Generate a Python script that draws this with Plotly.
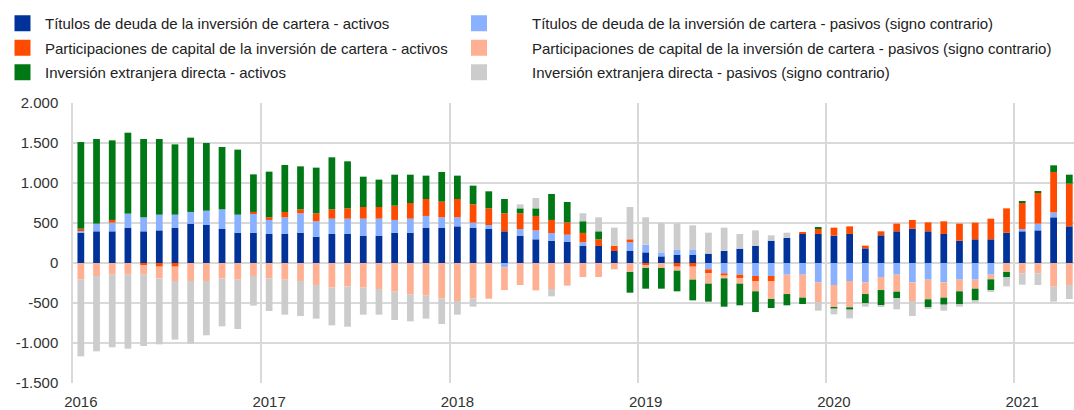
import plotly.graph_objects as go

years = ["2016", "2017", "2018", "2019", "2020", "2021"]
y_tick_vals = [-1500, -1000, -500, 0, 500, 1000, 1500, 2000]
y_tick_text = ["-1.500", "-1.000", "-500", "0", "500", "1.000", "1.500", "2.000"]

names = [
    "Títulos de deuda de la inversión de cartera - activos",
    "Títulos de deuda de la inversión de cartera - pasivos (signo contrario)",
    "Participaciones de capital de la inversión de cartera - activos",
    "Participaciones de capital de la inversión de cartera - pasivos (signo contrario)",
    "Inversión extranjera directa - activos",
    "Inversión extranjera directa - pasivos (signo contrario)",
]

# monthly values, Jan 2016 - Apr 2021
debt_assets = [379, 396, 396, 442, 396, 408, 442, 492, 475, 425, 379, 379,
               363, 363, 379, 329, 363, 363, 342, 342, 379, 379, 442, 442,
               458, 442, 425, 396, 342, 296, 279, 263, 213, 213, 150, 150,
               133, 83, 100, 100, 117, 150, 179, 213, 279, 313, 363, 363,
               342, 363, 183, 346, 396, 429, 396, 363, 279, 296, 296, 379,
               396, 408, 571, 458]
debt_liab = [29, 96, 108, 175, 175, 196, 162, 146, 179, 246, 225, 242,
             175, 208, 242, 192, 191, 191, 212, 212, 159, 175, 146, 129,
             113, 62, 50, -54, 83, 112, 96, 91, 46, 0, 0, 108,
             96, 50, 63, 63, -79, -129, -146, -162, -162, -146, -146, -242,
             -275, -225, -242, -175, -146, -242, -208, -242, -208, -208, -146, 0,
             29, 84, 62, 0]
equity_assets = [21, 0, 34, 0, -25, -46, -46, 0, 0, 0, 0, 17,
                 33, 67, 50, 100, 117, 129, 146, 146, 179, 196, 212, 196,
                 229, 229, 208, 225, 196, 180, 163, 154, 117, 83, 63, 38,
                 -29, 0, -46, -46, -50, -29, -46, -63, -63, 0, 16, 62,
                 100, 95, 34, 50, 96, 109, 112, 158, 213, 208, 258, 304,
                 325, 383, 505, 534]
equity_liab = [-208, -162, -146, -146, -121, -146, -179, -225, -225, -192, -208, -162,
               -192, -208, -225, -275, -308, -292, -308, -325, -358, -392, -408, -442,
               -475, -442, -446, -284, -275, -342, -325, -283, -175, -175, -79, -112,
               -33, -62, -50, -162, -129, -34, -66, -129, -225, -242, -287, -246,
               -275, -329, -146, -163, -212, -233, -246, -191, -146, -113, -58, -112,
               -129, -129, -296, -275]
fdi_assets = [1083, 1058, 995, 1012, 979, 946, 879, 929, 846, 779, 813, 470,
              571, 587, 537, 571, 650, 588, 379, 342, 387, 354, 292, 371,
              292, 234, 213, 179, 62, 95, 325, 255, 146, 100, 0, -259,
              -259, -259, -258, -259, -225, -354, -271, -259, -113, -141, -80, 17,
              -17, -29, -116, -187, -80, 0, -96, -88, -163, -146, -134, -63,
              17, 21, 83, 112]
fdi_liab = [-959, -942, -908, -925, -892, -825, -733, -783, -679, -600, -617, -371,
            -408, -438, -438, -421, -471, -504, -338, -321, -355, -337, -288, -321,
            -171, -104, 0, 0, 50, 130, -92, 0, 100, 175, 229, 404,
            342, 367, 333, 308, 262, 292, 183, 195, 67, 66, 0, -108,
            -75, -109, -42, -21, -141, -188, -21, -75, -29, -33, -25, -117,
            -142, -146, -187, -175]

series = [debt_assets, debt_liab, equity_assets, equity_liab, fdi_assets, fdi_liab]
colors = ["#003299", "#8AB1FF", "#FF4B00", "#FFAF92", "#007816", "#CCCCCC"]
legend_ids = ["legend", "legend2", "legend", "legend2", "legend", "legend2"]

n = len(debt_assets)
x = list(range(n))
year_pos = [12 * i for i in range(len(years))]
year_bounds = [12 * i - 0.5 for i in range(len(years))]

font_family = "Liberation Sans, Arial, sans-serif"

fig = go.Figure()
for i, (name, vals, col) in enumerate(zip(names, series, colors)):
    fig.add_trace(go.Bar(
        x=x, y=vals, name=name, marker=dict(color=col, line=dict(width=0)),
        showlegend=False, legendgroup=f"g{i}", width=0.43,
    ))
# legend entries (square swatches)
for i, (name, col, lg) in enumerate(zip(names, colors, legend_ids)):
    fig.add_trace(go.Scatter(
        x=[None], y=[None], mode="markers", name=name,
        marker=dict(symbol="square", size=16, color=col),
        legend=lg, legendgroup=f"g{i}", showlegend=True, hoverinfo="skip",
    ))

legend_common = dict(
    font=dict(family=font_family, size=15, color="#222222"),
    bgcolor="rgba(0,0,0,0)", orientation="v", traceorder="grouped",
    tracegroupgap=2, xref="container", yref="container",
    xanchor="left", yanchor="top",
)

fig.update_layout(
    width=1074, height=410,
    margin=dict(l=73, r=0, t=103, b=27, autoexpand=False),
    barmode="relative",
    plot_bgcolor="white", paper_bgcolor="white",
    font=dict(family=font_family, size=15, color="#333333"),
    showlegend=True,
    legend=dict(x=0.0, y=1 - 7 / 410, itemwidth=35, **legend_common),
    legend2=dict(x=426 / 1074, y=1 - 7 / 410, itemwidth=96, **legend_common),
    xaxis=dict(
        range=[-0.5, 63.3], tickmode="array", tickvals=year_pos, ticktext=years,
        showgrid=False, zeroline=False, ticks="", showline=False,
        tickfont=dict(size=15, color="#333333"), ticklabelstandoff=8,
        minor=dict(tickmode="array", tickvals=year_bounds, showgrid=True,
                   gridcolor="#D9D9D9", gridwidth=1.5, ticks=""),
    ),
    yaxis=dict(
        range=[-1500, 2000], tickmode="array", tickvals=y_tick_vals, ticktext=y_tick_text,
        showgrid=True, gridcolor="#D9D9D9", gridwidth=1.5, zeroline=False,
        ticks="", showline=True, linecolor="#D9D9D9", linewidth=1.5,
        tickfont=dict(size=15, color="#333333"), ticklabelstandoff=10,
    ),
)

fig.write_html("out.html", config={"displayModeBar": False},
               post_script="document.body.style.margin='0';")
